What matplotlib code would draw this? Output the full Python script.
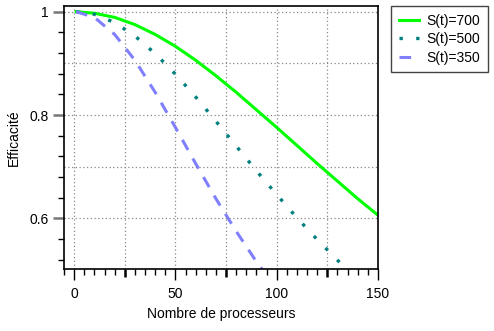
import matplotlib
matplotlib.use("Agg")
import matplotlib.pyplot as plt
from matplotlib.ticker import MultipleLocator

plt.rcParams['font.family'] = ['Liberation Sans', 'DejaVu Sans']

# efficiency vs number of processors for three sequential times
procs = [1, 10, 20, 30, 40, 50, 60, 70, 80, 90, 100, 110, 120, 130, 140, 150]
eff_700 = [1.000, 0.997, 0.989, 0.975, 0.956, 0.933, 0.906, 0.876, 0.844,
           0.810, 0.776, 0.741, 0.706, 0.672, 0.638, 0.606]
eff_500 = [1.000, 0.995, 0.979, 0.953, 0.919, 0.879, 0.835, 0.788, 0.740,
           0.692, 0.646, 0.601, 0.559, 0.519, 0.482, 0.448]
eff_350 = [1.000, 0.989, 0.956, 0.906, 0.844, 0.776, 0.706, 0.638, 0.575,
           0.516, 0.464, 0.418, 0.378, 0.342, 0.311, 0.284]
labels = ['S(t)=700', 'S(t)=500', 'S(t)=350']

fig = plt.figure(figsize=(4.94, 3.31), dpi=100)
ax = fig.add_axes([64/494, 62/331, 314/494, 263/331])

ax.plot(procs, eff_700, color='#00ff00', lw=2.2, label=labels[0])
ax.plot(procs, eff_500, color='#008080', lw=2.4, linestyle=(0, (1, 4)), label=labels[1])
ax.plot(procs, eff_350, color='#8080ff', lw=2.2, linestyle=(0, (3.8, 3.2)), label=labels[2])

ax.set_xlim(-5, 150)
ax.set_ylim(0.502, 1.011)

# dotted grid
for gx in [0, 25, 50, 75, 100, 125]:
    ax.axvline(gx, color='#888888', lw=0.9, linestyle=(0, (1, 2)), zorder=0)
for gy in [0.6, 0.7, 0.8, 0.9, 1.0]:
    ax.axhline(gy, color='#888888', lw=0.9, linestyle=(0, (1, 2)), zorder=0)

ax.set_xticks([0, 25, 50, 75, 100, 125, 150])
ax.set_xticklabels(['0', '', '50', '', '100', '', '150'])
ax.xaxis.set_minor_locator(MultipleLocator(5))
ax.set_yticks([0.6, 0.8, 1.0])
ax.set_yticklabels(['0.6', '0.8', '1'])
ax.yaxis.set_minor_locator(MultipleLocator(0.04))
ax.tick_params(axis='x', which='major', length=8, width=1, labelsize=10, pad=5)
ax.tick_params(axis='x', which='minor', length=4.5, width=1)
ax.tick_params(axis='y', which='major', length=8, width=1.8, color='#777777', labelsize=10, pad=3)
ax.tick_params(axis='y', which='minor', length=4.5, width=1)

# every 25: gray, a bit shorter
for i, t in enumerate(ax.xaxis.get_major_ticks()):
    if i % 2 == 1:
        t.tick1line.set_color('#888888')
        t.tick1line.set_markersize(6)
        t.tick1line.set_markeredgewidth(1.8)

for s in ax.spines.values():
    s.set_linewidth(1.2)

ax.set_xlabel('Nombre de processeurs', fontsize=10, labelpad=4)
ax.set_ylabel('Efficacité', fontsize=10, labelpad=6)

leg = fig.legend(loc='upper left', bbox_to_anchor=(391/494, 1 - 6/331), fontsize=10,
                 fancybox=False, framealpha=1, edgecolor='#444444', borderaxespad=0,
                 handlelength=1.5, handletextpad=0.5, borderpad=0.55, labelspacing=0.32)
leg.get_frame().set_linewidth(1)

fig.savefig('out.png', dpi=100)
